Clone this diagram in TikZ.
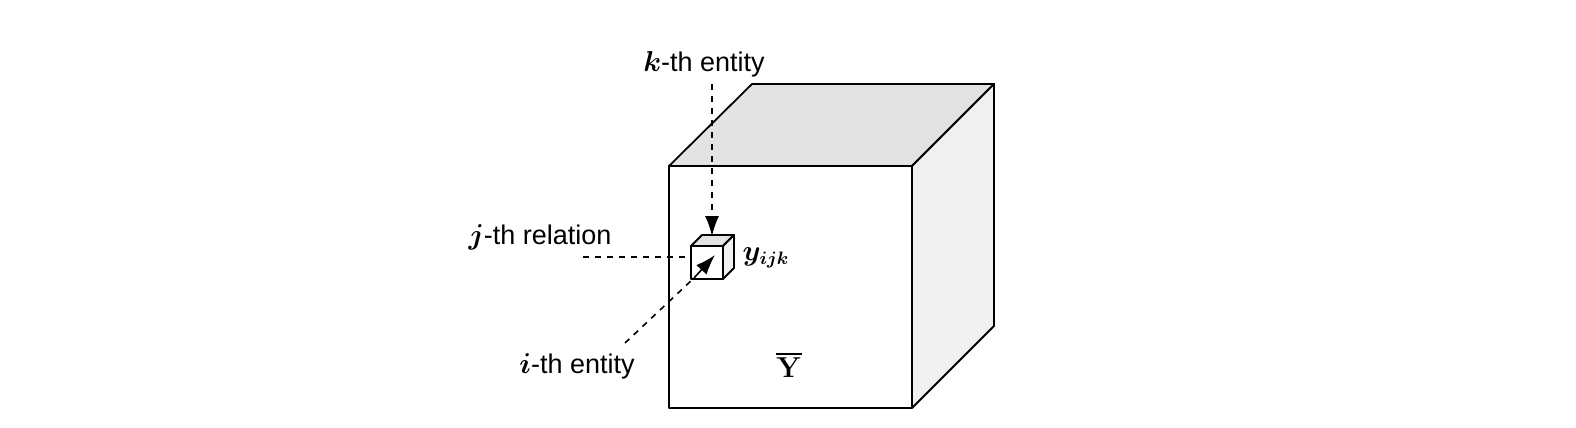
\documentclass[tikz,border=0pt]{standalone}
\usepackage{amsmath}
\usepackage{bm}
\usepackage[no-math]{fontspec}
\setmainfont{Liberation Sans}
\usepackage{xcolor}
\usetikzlibrary{arrows.meta}

\begin{document}
\begin{tikzpicture}[x=0.5pt, y=-0.5pt, font=\fontsize{13.5}{16}\selectfont,
    face/.style={draw, line width=0.9pt, line join=round},
    pointer/.style={-{Latex[length=10pt,width=7pt]}, line width=0.8pt}]
    \useasboundingbox (0,0) rectangle (1576,428);
    % big tensor
    \filldraw[face, fill=black!11] (669,166) -- (752,84) -- (994,84) -- (912,166) -- cycle;
    \filldraw[face, fill=black!6] (912,166) -- (994,84) -- (994,326) -- (912,408) -- cycle;
    \filldraw[face, fill=white] (669,166) rectangle (912,408);

    \node (kent) at (704,64) {$\bm{k}$-th entity};
    \node (jrel) at (540,237) {$\bm{j}$-th relation};
    \node (ient) at (577,366) {$\bm{i}$-th entity};
    \node (ybar) at (789,365) {$\overline{\mathbf{Y}}$};

    % small cube for y_ijk
    \filldraw[face, fill=black!11] (691,246) -- (702,235) -- (734,235) -- (723,246) -- cycle;
    \filldraw[face, fill=black!6] (723,246) -- (734,235) -- (734,268) -- (723,279) -- cycle;
    \filldraw[face, fill=white] (691,246) rectangle (723,279);
    \node (yijk) at (766,258) {$\bm{y_{ijk}}$};

    \coordinate (kstart) at (712,84);
    \coordinate (ktop) at (712,236);
    \coordinate (jstart) at (583,257);
    \coordinate (jside) at (691,257);
    \coordinate (istart) at (625,343);
    \coordinate (icorner) at (694,278);
    \coordinate (itip) at (715,255);

    \draw[pointer, dashed] (kstart) -- (ktop);
    \draw[dashed, line width=0.8pt] (jstart) -- (jside);
    \draw[dashed, line width=0.8pt] (istart) -- (icorner);
    \draw[pointer] (icorner) -- (itip);
\end{tikzpicture}
\end{document}
